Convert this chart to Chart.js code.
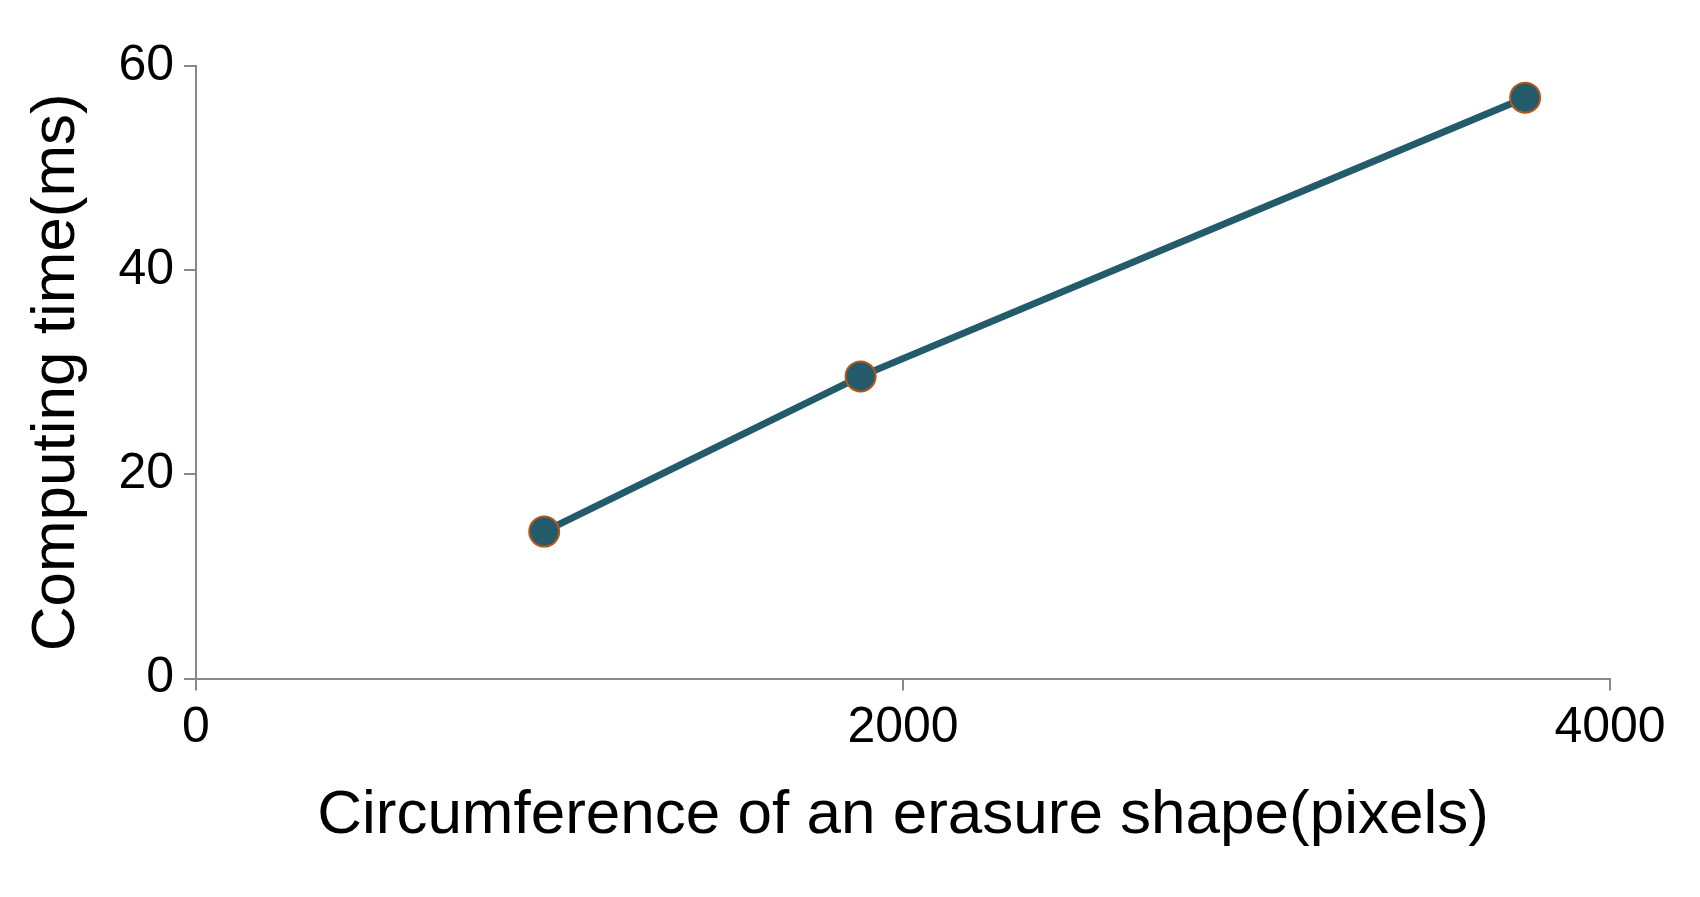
<!DOCTYPE html>
<html>
<head>
<meta charset="utf-8">
<script src="https://cdn.jsdelivr.net/npm/chart.js@4"></script>
<style>
  html, body { margin: 0; background: #fff; }
  #wrap { width: 1700px; height: 897px; }
</style>
</head>
<body>
<div id="wrap"><canvas id="chart"></canvas></div>
<script>
const circumference = [985, 1880, 3760];
const computingTime = [14.4, 29.6, 56.9];
const xTicks = [0, 2000, 4000];
const yTicks = [0, 20, 40, 60];

const points = circumference.map((x, i) => ({ x: x, y: computingTime[i] }));

new Chart(document.getElementById('chart'), {
  type: 'scatter',
  data: {
    datasets: [{
      data: points,
      showLine: true,
      borderColor: '#245b6b',
      borderWidth: 7,
      pointRadius: 15,
      pointBackgroundColor: '#245b6b',
      pointBorderColor: '#b5561c',
      pointBorderWidth: 2,
    }],
  },
  options: {
    responsive: true,
    maintainAspectRatio: false,
    animation: false,
    layout: { padding: { top: 66, right: 90, bottom: 40, left: 16 } },
    plugins: { legend: { display: false }, tooltip: { enabled: false } },
    scales: {
      x: {
        type: 'linear',
        min: 0, max: 4000,
        afterBuildTicks: axis => { axis.ticks = xTicks.map(v => ({ value: v })); },
        grid: { display: true, drawOnChartArea: false, tickLength: 12, color: '#888', lineWidth: 2 },
        border: { color: '#888', width: 2 },
        ticks: { color: '#000', font: { family: 'Liberation Sans, Arial', size: 50 }, padding: 8, maxRotation: 0,
                 callback: v => String(v) },
        title: { display: true, text: 'Circumference of an erasure shape(pixels)', color: '#000',
                 font: { family: 'Liberation Sans, Arial', size: 62 }, padding: { top: 12 } },
      },
      y: {
        min: 0, max: 60,
        afterBuildTicks: axis => { axis.ticks = yTicks.map(v => ({ value: v })); },
        grid: { display: true, drawOnChartArea: false, tickLength: 12, color: '#888', lineWidth: 2 },
        border: { color: '#888', width: 2 },
        ticks: { color: '#000', font: { family: 'Liberation Sans, Arial', size: 50 }, padding: 10 },
        title: { display: true, text: 'Computing time(ms)', color: '#000',
                 font: { family: 'Liberation Sans, Arial', size: 62 }, padding: { bottom: 14 } },
      },
    },
  },
});
</script>
</body>
</html>
